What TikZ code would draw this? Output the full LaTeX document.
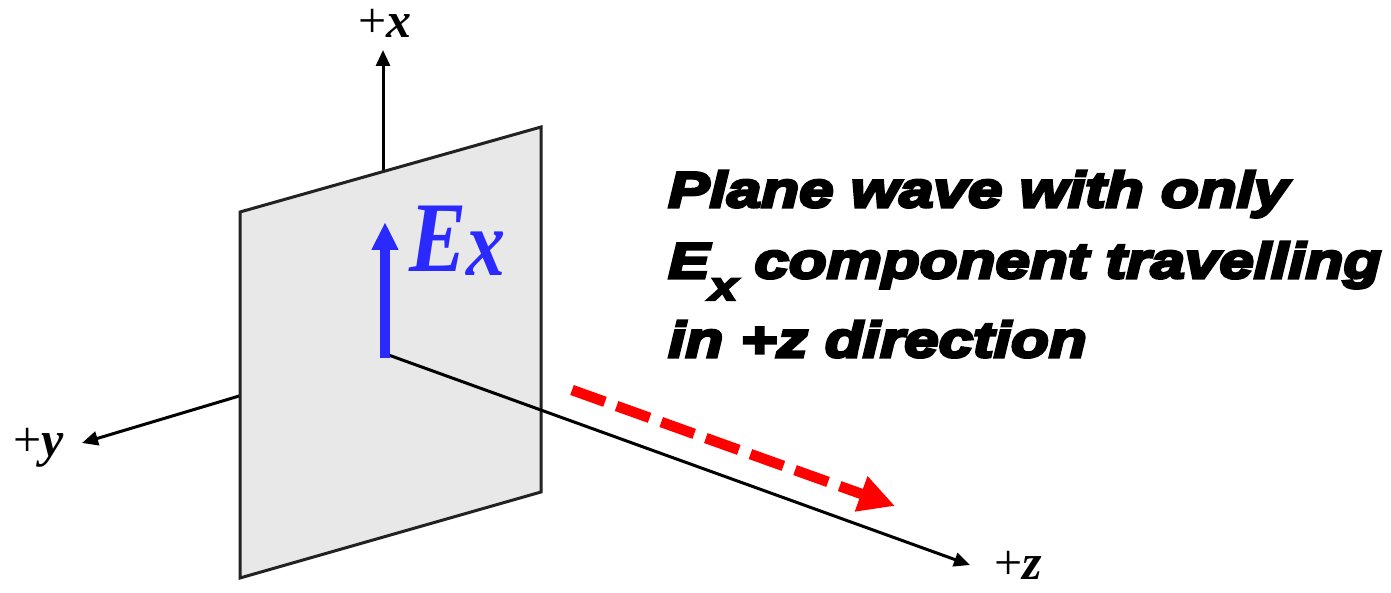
\documentclass[tikz,border=0pt]{standalone}
\usepackage{fontspec}
\setmainfont{Liberation Serif}
\newfontfamily\headfont{Liberation Sans}[FakeStretch=1.24,FakeBold=6]
\usetikzlibrary{arrows.meta}
\definecolor{planefill}{RGB}{232,232,232}
\definecolor{planeedge}{RGB}{34,34,34}
\definecolor{ebl}{RGB}{42,42,255}
\tikzset{
  axis/.style={line width=3pt,-{Triangle[length=16pt,width=14pt]}},
  axlabel/.style={anchor=base,inner sep=0pt,font=\fontsize{50}{50}\selectfont},
  headline/.style={anchor=base west,inner sep=0pt,font=\fontsize{50}{50}\selectfont\headfont\bfseries\itshape},
}
\begin{document}
\begin{tikzpicture}[x=1pt,y=-1pt]
\useasboundingbox (0,0) rectangle (1391,593);
\coordinate (O) at (383,353);
\coordinate (xtip) at (383,50);
\coordinate (ytip) at (82,443);
\coordinate (ztip) at (970,565);
\coordinate (p1) at (240,212);
\coordinate (p2) at (541,127);
\coordinate (p3) at (541,492);
\coordinate (p4) at (240,578);
% axes behind plane
\draw[axis] (O) -- (ytip);
\draw[axis] (O) -- (xtip);
% plane
\draw[line width=3pt,draw=planeedge,fill=planefill,line join=miter] (p1) -- (p2) -- (p3) -- (p4) -- cycle;
% z axis in front
\draw[axis] (O) -- (ztip);
% E field arrow
\coordinate (eb) at (385,358);
\coordinate (et) at (385,222);
\draw[ebl,line width=10pt,-{Triangle[length=28pt,width=25pt]}] (eb) -- (et);
\node[anchor=base west,inner sep=0pt,text=ebl,font=\fontsize{100}{100}\selectfont\bfseries\itshape] (ex) at (409,272) {\scalebox{0.86}[1]{E}\raisebox{-4pt}{\scalebox{0.78}[0.95]{x}}};
% propagation arrow
\coordinate (rs) at (572,390);
\coordinate (rt) at (895,506);
\draw[red,line width=10.5pt,dash pattern=on 35pt off 12.4pt,-{Triangle[length=36pt,width=35pt]}] (rs) -- (rt);
% axis labels
\node[axlabel] (lx) at (385,38) {+\textbf{\textit{x}}};
\node[axlabel] (ly) at (39,456) {+\textbf{\textit{y}}};
\node[axlabel] (lz) at (1018,579) {+\textbf{\textit{z}}};
% description
\node[headline] (t1) at (668,207) {Plane wave with only};
\node[headline] (t2) at (668,278) {E\raisebox{-22pt}{\fontsize{40}{40}\selectfont x} component travelling};
\node[headline] (t3) at (668,357) {in +z direction};
\end{tikzpicture}
\end{document}
